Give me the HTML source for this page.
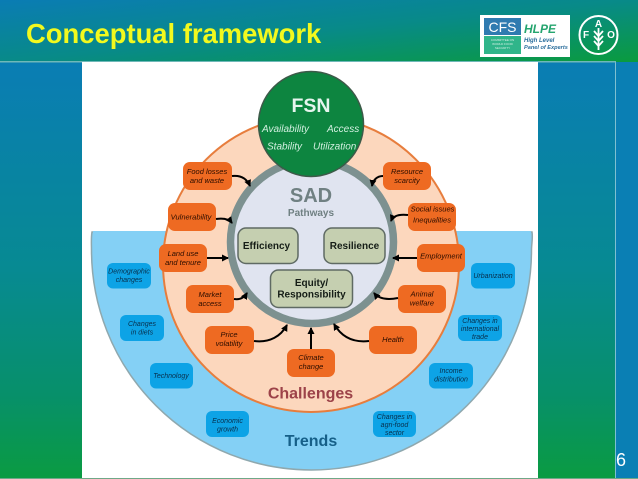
<!DOCTYPE html>
<html><head><meta charset="utf-8"><style>
html,body{margin:0;padding:0;background:#fff}
svg{display:block;font-family:"Liberation Sans",sans-serif}
</style></head><body>
<svg width="638" height="479" viewBox="0 0 638 479" xmlns="http://www.w3.org/2000/svg">
<defs>
<linearGradient id="hd" x1="0" y1="0" x2="1" y2="1"><stop offset="0" stop-color="#0a7cb4"/><stop offset=".5" stop-color="#088a88"/><stop offset="1" stop-color="#0a9b3e"/></linearGradient>
<linearGradient id="sd" x1="0" y1="0" x2="0" y2="1"><stop offset="0" stop-color="#0a7db4"/><stop offset=".5" stop-color="#078a92"/><stop offset=".8" stop-color="#07906a"/><stop offset="1" stop-color="#0a9b42"/></linearGradient>
<marker id="a" markerWidth="8" markerHeight="8" refX="6" refY="3.500" orient="auto" markerUnits="userSpaceOnUse"><path d="M0 0L7 3.500L0 7z" fill="#000"/></marker>
<filter id="b" x="-5%" y="-5%" width="110%" height="110%"><feGaussianBlur stdDeviation="0.35"/></filter>
</defs>
<rect width="638" height="479" fill="#0a7fb4"/>
<rect x="0" y="62" width="82" height="416" fill="url(#sd)"/>
<rect x="538" y="62" width="77" height="416" fill="url(#sd)"/>
<rect x="615" y="62" width="1" height="417" fill="#7fc0d0"/>
<rect x="0" y="0" width="638" height="62" fill="url(#hd)"/>
<rect x="0" y="61" width="616" height="1.500" fill="#6fb8b8"/>
<rect x="82" y="62" width="456" height="416" fill="#fff"/>
<rect x="0" y="478" width="638" height="1" fill="#6fa888"/>
<text x="26" y="43" font-size="27.400" font-weight="bold" fill="#f2f91e">Conceptual framework</text>
<text x="616" y="466" font-size="18" fill="#fff">6</text>

<!-- logos -->
<rect x="480" y="15" width="90" height="42" fill="#fff"/>
<rect x="484" y="18" width="37" height="17" fill="#2f7bb0"/>
<text x="502.500" y="32" font-size="14" fill="#fff" text-anchor="middle">CFS</text>
<rect x="484" y="36" width="37" height="18" fill="#30b58a"/>
<text x="502.500" y="41" font-size="3" fill="#d5f0e5" text-anchor="middle">COMMITTEE ON</text>
<text x="502.500" y="45" font-size="3" fill="#d5f0e5" text-anchor="middle">WORLD FOOD</text>
<text x="502.500" y="49" font-size="3" fill="#d5f0e5" text-anchor="middle">SECURITY</text>
<text x="524" y="33" font-size="12" font-weight="bold" font-style="italic" fill="#25a56f">HLPE</text>
<text x="524" y="42" font-size="6" font-weight="bold" font-style="italic" fill="#2a6d9c">High Level</text>
<text x="524" y="49" font-size="5.600" font-weight="bold" font-style="italic" fill="#2a6d9c">Panel of Experts</text>
<circle cx="598.500" cy="35" r="19" fill="none" stroke="#fff" stroke-width="2"/>
<text x="598.500" y="27" font-size="10" font-weight="bold" fill="#fff" text-anchor="middle">A</text>
<text x="586" y="38" font-size="10" font-weight="bold" fill="#fff" text-anchor="middle">F</text>
<text x="611" y="38" font-size="10" font-weight="bold" fill="#fff" text-anchor="middle">O</text>
<path d="M598.500 28V50M594 31l4.500 5 4.500-5M594 36l4.500 5 4.500-5M594 41l4.500 5 4.500-5" stroke="#fff" stroke-width="1.800" fill="none"/>

<g filter="url(#b)">
<!-- Trends bowl -->
<path d="M92 232H532C533 238 531.500 244 531.500 250A220 220 0 0 1 91.500 250C91.500 244 91 238 92 232Z" fill="#84d0f5" stroke="#8fa8ae" stroke-width="1.500"/>
<path d="M93 232H531" stroke="#84d0f5" stroke-width="2"/>
<!-- Challenges -->
<circle cx="311" cy="264" r="148" fill="#fcd7bd" stroke="#e77d3c" stroke-width="2"/>
<!-- SAD -->
<circle cx="312" cy="242" r="81.500" fill="#e0e4f0" stroke="#7d9190" stroke-width="7.500"/>
<!-- FSN -->
<circle cx="311" cy="124" r="52.500" fill="#0b8540" stroke="#3c5a48" stroke-width="1.500"/>
<text x="311" y="112" font-size="19.500" font-weight="bold" fill="#e6f5ee" text-anchor="middle">FSN</text>
<g font-size="10" font-style="italic" fill="#d2efdf">
<text x="262" y="132">Availability</text><text x="327" y="132">Access</text>
<text x="267" y="149.500">Stability</text><text x="313" y="149.500">Utilization</text>
</g>
<text x="311" y="202" font-size="20" font-weight="bold" fill="#6f8082" text-anchor="middle">SAD</text>
<text x="311" y="216" font-size="10" font-weight="bold" fill="#6f8082" text-anchor="middle">Pathways</text>
<g fill="#c5cfb0" stroke="#5f6b64" stroke-width="1.500">
<rect x="238" y="228" width="60" height="35.500" rx="8"/>
<rect x="324" y="228" width="61" height="35.500" rx="8"/>
<rect x="270.500" y="270" width="82" height="37.500" rx="8"/>
</g>
<g font-size="10" font-weight="bold" fill="#141f18" text-anchor="middle">
<text x="266.500" y="249">Efficiency</text><text x="354.500" y="249">Resilience</text>
<text x="311.500" y="286">Equity/</text><text x="311.500" y="297.500">Responsibility</text>
</g>
<!-- orange boxes -->
<g fill="#ee6a20">
<rect x="183" y="162" width="49" height="28" rx="7"/>
<rect x="168" y="203" width="48" height="28" rx="7"/>
<rect x="159" y="244" width="48" height="28" rx="7"/>
<rect x="186" y="285" width="48" height="28" rx="7"/>
<rect x="205" y="326" width="49" height="28" rx="7"/>
<rect x="287" y="349" width="48" height="28" rx="7"/>
<rect x="369" y="326" width="48" height="28" rx="7"/>
<rect x="398" y="285" width="48" height="28" rx="7"/>
<rect x="417" y="244" width="48" height="28" rx="7"/>
<rect x="408" y="203" width="48" height="28" rx="7"/>
<rect x="383" y="162" width="48" height="28" rx="7"/>
</g>
<g font-size="7.500" font-style="italic" fill="#2a0c02" text-anchor="middle">
<text x="207" y="174">Food losses</text><text x="207" y="183">and waste</text>
<text x="191" y="219.500">Vulnerability</text>
<text x="183" y="256">Land use</text><text x="183" y="265">and tenure</text>
<text x="210" y="297">Market</text><text x="210" y="306">access</text>
<text x="229" y="337">Price</text><text x="229" y="346">volatility</text>
<text x="311" y="360">Climate</text><text x="311" y="369">change</text>
<text x="393" y="342">Health</text>
<text x="422" y="296.500">Animal</text><text x="422" y="305.500">welfare</text>
<text x="441" y="258.500">Employment</text>
<text x="432.500" y="211.500">Social issues</text><text x="432" y="222.500">Inequalities</text>
<text x="407" y="174">Resource</text><text x="407" y="183">scarcity</text>
</g>
<!-- arrows -->
<g fill="none" stroke="#000" stroke-width="2" marker-end="url(#a)">
<path d="M232 176C241 175 247 179 250 186"/>
<path d="M216 219C223 218 229 219 232 223"/>
<path d="M207 258H228"/>
<path d="M234 299C240 300 244 298 247 293"/>
<path d="M254 341C270 343 281 336 287 325"/>
<path d="M311 349V328"/>
<path d="M369 341C352 343 341 336 334 324"/>
<path d="M398 298C388 300 379 299 374 293"/>
<path d="M417 258H393"/>
<path d="M408 215C399 214 393 216 391 221"/>
<path d="M383 176C377 176 373 180 372 186"/>
</g>
<text x="310.500" y="398.500" font-size="16" font-weight="bold" fill="#9c4248" text-anchor="middle">Challenges</text>
<text x="311" y="446" font-size="16" font-weight="bold" fill="#125f88" text-anchor="middle">Trends</text>
<!-- blue boxes -->
<g fill="#10a3e6">
<rect x="107" y="263" width="44" height="25.500" rx="6"/>
<rect x="120" y="315" width="44" height="26" rx="6"/>
<rect x="150" y="363" width="43" height="25.500" rx="6"/>
<rect x="206" y="411" width="43" height="26" rx="6"/>
<rect x="373" y="411" width="43" height="26" rx="6"/>
<rect x="429" y="363" width="44" height="25.500" rx="6"/>
<rect x="458" y="315" width="44" height="26" rx="6"/>
<rect x="471" y="263" width="44" height="25.500" rx="6"/>
</g>
<g font-size="7" font-style="italic" fill="#062f4c" text-anchor="middle">
<text x="129" y="273.500">Demographic</text><text x="129" y="282">changes</text>
<text x="142" y="326">Changes</text><text x="142" y="334.500">in diets</text>
<text x="171" y="378">Technology</text>
<text x="227.500" y="423">Economic</text><text x="227.500" y="431.500">growth</text>
<text x="394.500" y="419">Changes in</text><text x="394.500" y="427">agri-food</text><text x="394.500" y="435">sector</text>
<text x="451" y="373">Income</text><text x="451" y="381.500">distribution</text>
<text x="480" y="323">Changes in</text><text x="480" y="331">international</text><text x="480" y="339">trade</text>
<text x="493" y="278">Urbanization</text>
</g>
</g>
</svg>
</body></html>
